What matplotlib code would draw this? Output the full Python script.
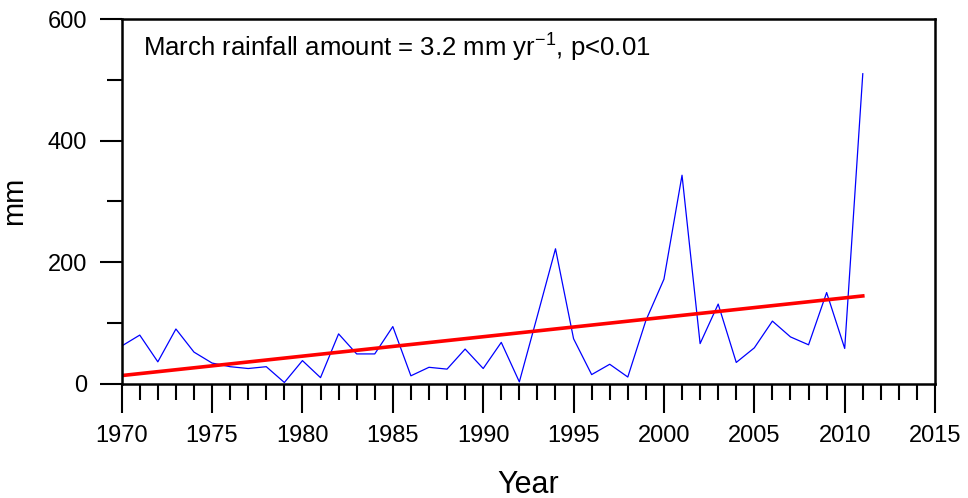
import numpy as np
import matplotlib
matplotlib.use("Agg")
import matplotlib.pyplot as plt
from matplotlib.ticker import MultipleLocator

plt.rcParams['font.family'] = ['Liberation Sans', 'DejaVu Sans']
plt.rcParams['mathtext.fontset'] = 'custom'
plt.rcParams['mathtext.rm'] = 'Liberation Sans'

# March rainfall (mm), 1970-2011
years = np.arange(1970, 2012)
rain = [62, 80, 36, 90, 52, 34, 28, 25, 28, 2,
        38, 10, 82, 49, 49, 94, 13, 27, 24, 57,
        25, 68, 3, 112, 222, 74, 15, 32, 11, 104,
        172, 343, 66, 131, 35, 59, 103, 77, 64, 150,
        58, 510]

slope, intercept = np.polyfit(years, rain, 1)
trend = slope * years + intercept

fig = plt.figure(figsize=(9.68, 4.98), dpi=100)
ax = fig.add_axes([0.1257, 0.2295, 0.8403, 0.7323])

ax.plot(years, rain, color='#0000ff', lw=0.9)
ax.plot(years, trend, color='#ff0000', lw=2.6)

ax.set_xlim(1970, 2015)
ax.set_ylim(0, 600)
ax.xaxis.set_major_locator(MultipleLocator(5))
ax.xaxis.set_minor_locator(MultipleLocator(1))
ax.yaxis.set_major_locator(MultipleLocator(200))
ax.yaxis.set_minor_locator(MultipleLocator(100))

ax.tick_params(axis='x', which='major', direction='out', length=21, width=1.5,
               labelsize=17, pad=9)
ax.tick_params(axis='x', which='minor', direction='out', length=11.5, width=1.5)
ax.tick_params(axis='y', which='major', direction='out', length=16, width=1.5,
               labelsize=17, pad=9)
ax.tick_params(axis='y', which='minor', direction='out', length=11, width=1.5)
for s in ax.spines.values():
    s.set_linewidth(1.8)

ax.set_xlabel("Year", fontsize=22, labelpad=16)
ax.set_ylabel("mm", fontsize=21, labelpad=14)

ax.text(0.026, 0.925, r"March rainfall amount = 3.2 mm yr$^{-1}$, p<0.01",
        transform=ax.transAxes, fontsize=18.5, va='center', ha='left')

fig.savefig("out.png", dpi=100)
